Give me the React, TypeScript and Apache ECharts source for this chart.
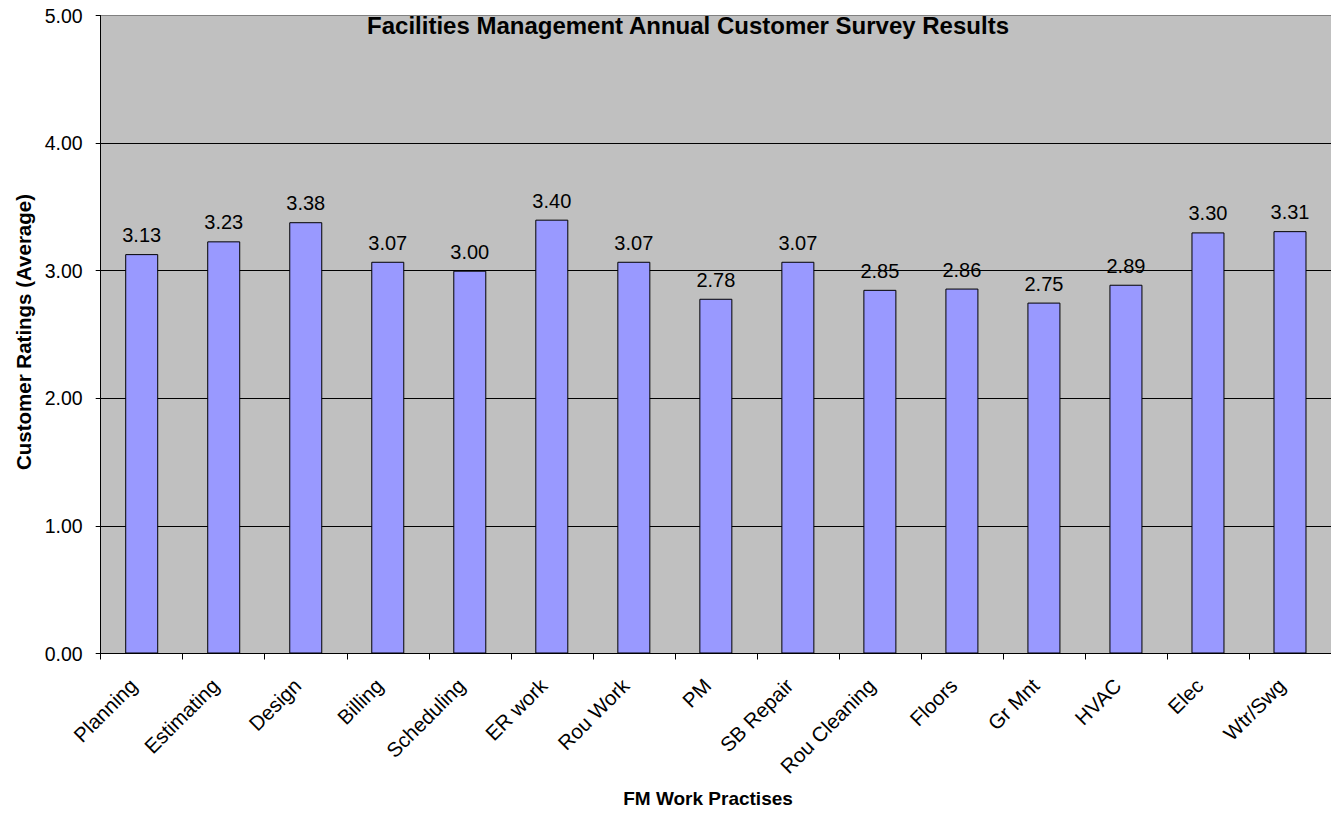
import React, { useEffect, useRef } from "react";
import * as echarts from "echarts";

const categories = [
  "Planning", "Estimating", "Design", "Billing", "Scheduling", "ER work",
  "Rou Work", "PM", "SB Repair", "Rou Cleaning", "Floors", "Gr Mnt",
  "HVAC", "Elec", "Wtr/Swg",
];
const ratings = [3.13, 3.23, 3.38, 3.07, 3.0, 3.4, 3.07, 2.78, 3.07, 2.85, 2.86, 2.75, 2.89, 3.3, 3.31];
const yMin = 0;
const yMax = 5;
const yStep = 1;
const titleText = "Facilities Management Annual Customer Survey Results";
const xName = "FM Work Practises";
const yName = "Customer Ratings (Average)";

const FONT = "'Liberation Sans', Arial, sans-serif";

export default function App() {
  const ref = useRef<HTMLDivElement>(null);
  useEffect(() => {
    if (!ref.current) return;
    const chart = echarts.init(ref.current, null, { renderer: "svg" });
    chart.setOption({
      animation: false,
      backgroundColor: "#ffffff",
      textStyle: { fontFamily: FONT },
      title: {
        text: titleText,
        left: 688,
        top: 13,
        padding: 0,
        textAlign: "center",
        textStyle: { fontFamily: FONT, fontSize: 24, fontWeight: "bold", color: "#000" },
      },
      grid: {
        left: 100.7,
        right: -17,
        top: 15.5,
        bottom: 160.5,
        show: true,
        backgroundColor: "#C0C0C0",
        borderWidth: 0,
      },
      xAxis: {
        type: "category",
        data: categories,
        boundaryGap: true,
        axisLine: { show: true, lineStyle: { color: "#000", width: 1 } },
        axisTick: { show: true, length: 6, lineStyle: { color: "#000" } },
        axisLabel: {
          rotate: 45,
          interval: 0,
          margin: 20,
          padding: [0, 12, 0, 0],
          fontSize: 20.5,
          color: "#000",
          fontFamily: FONT,
        },
      },
      yAxis: {
        type: "value",
        min: yMin,
        max: yMax,
        interval: yStep,
        axisLine: { show: true, lineStyle: { color: "#000", width: 1 } },
        axisTick: { show: true, length: 5, lineStyle: { color: "#000" } },
        axisLabel: {
          formatter: (v: number) => v.toFixed(2),
          fontSize: 19.5,
          color: "#000",
          margin: 18,
          fontFamily: FONT,
        },
        splitLine: {
          show: true,
          lineStyle: { color: ["#000", "#000", "#000", "#000", "#000", "#808080"], width: 1 },
        },
      },
      graphic: [
        {
          type: "text",
          x: 23,
          y: 332,
          rotation: Math.PI / 2,
          style: {
            text: yName,
            font: `bold 20.5px ${FONT}`,
            fill: "#000",
            align: "center",
            verticalAlign: "middle",
          },
        },
        {
          type: "text",
          x: 708,
          y: 789,
          style: {
            text: xName,
            font: `bold 19px ${FONT}`,
            fill: "#000",
            align: "center",
            verticalAlign: "top",
          },
        },
      ],
      series: [
        {
          type: "bar",
          data: ratings,
          barWidth: 33,
          itemStyle: { color: "#9999FF", borderColor: "#000", borderWidth: 1 },
          label: {
            show: true,
            position: "top",
            distance: 9,
            formatter: (p: any) => Number(p.value).toFixed(2),
            fontSize: 20,
            color: "#000",
            fontFamily: FONT,
          },
        },
      ],
    });
    return () => chart.dispose();
  }, []);
  return (
    <div
      ref={ref}
      style={{ position: "fixed", left: 0, top: 0, width: 1331, height: 814, overflow: "hidden" }}
    />
  );
}
